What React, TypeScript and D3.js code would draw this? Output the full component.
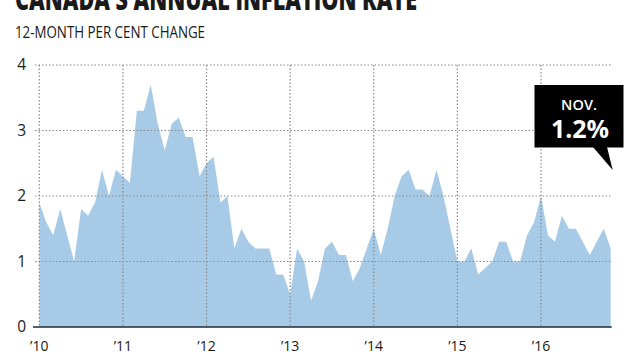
import React from "react";
import * as d3 from "d3";

const years = ["\u201910", "\u201911", "\u201912", "\u201913", "\u201914", "\u201915", "\u201916"];
const yTicks = [0, 1, 2, 3, 4];
const v2010 = [1.9, 1.6, 1.4, 1.8, 1.4, 1.0, 1.8, 1.7, 1.9, 2.4, 2.0, 2.4];
const v2011 = [2.3, 2.2, 3.3, 3.3, 3.7, 3.1, 2.7, 3.1, 3.2, 2.9, 2.9, 2.3];
const v2012 = [2.5, 2.6, 1.9, 2.0, 1.2, 1.5, 1.3, 1.2, 1.2, 1.2, 0.8, 0.8];
const v2013 = [0.5, 1.2, 1.0, 0.4, 0.7, 1.2, 1.3, 1.1, 1.1, 0.7, 0.9, 1.2];
const v2014 = [1.5, 1.1, 1.5, 2.0, 2.3, 2.4, 2.1, 2.1, 2.0, 2.4, 2.0, 1.5];
const v2015 = [1.0, 1.0, 1.2, 0.8, 0.9, 1.0, 1.3, 1.3, 1.0, 1.0, 1.4, 1.6];
const v2016 = [2.0, 1.4, 1.3, 1.7, 1.5, 1.5, 1.3, 1.1, 1.3, 1.5, 1.2];

const values = [...v2010, ...v2011, ...v2012, ...v2013, ...v2014, ...v2015, ...v2016];

export default function App() {
  const W = 635, H = 357;
  // x domain in years since Jan 2010
  const x = d3.scaleLinear().domain([0, 6]).range([39.3, 541]);
  const y = d3.scaleLinear().domain([0, 4]).range([327, 65]);
  const mx = (i: number) => x(i / 12);
  const area = d3
    .area<number>()
    .x((_, i) => mx(i))
    .y0(y(0))
    .y1((d) => y(d));
  const lastX = mx(values.length - 1);
  const gridRight = 612;
  const font = "'Open Sans', 'DejaVu Sans', sans-serif";
  return (
    <svg width={W} height={H} style={{ position: "absolute", left: 0, top: 0, background: "#fff" }}>
      <text x={15} y={10} fontFamily={font} fontWeight={800} fontSize={30}
        textLength={402} lengthAdjust="spacingAndGlyphs" fill="#1a1a1a">
        CANADA’S ANNUAL INFLATION RATE
      </text>
      <text x={15} y={38} fontFamily={font} fontSize={15.5}
        textLength={190} lengthAdjust="spacingAndGlyphs" fill="#1a1a1a">
        12-MONTH PER CENT CHANGE
      </text>
      <path d={area(values) || ""} fill="#a7cbe7" />
      {yTicks.filter((t) => t > 0).map((t) => (
        <line key={"h" + t} x1={35} x2={gridRight} y1={y(t)} y2={y(t)}
          stroke="#8a8a8a" strokeWidth={1.2} strokeDasharray="1.5,2" />
      ))}
      {years.map((yr, i) => (
        <line key={"v" + yr} x1={x(i)} x2={x(i)} y1={y(4)} y2={y(0)}
          stroke="#8a8a8a" strokeWidth={1.2} strokeDasharray="1.5,2" />
      ))}
      <line x1={33} x2={lastX + 1} y1={y(0)} y2={y(0)} stroke="#1c2b3a" strokeWidth={1.6} />
      {yTicks.map((t) => (
        <text key={"yl" + t} x={26} y={y(t) + 5} textAnchor="end" fontFamily={font}
          fontSize={15.5} fill="#1a1a1a">{t}</text>
      ))}
      {years.map((yr, i) => (
        <text key={"xl" + yr} x={x(i)} y={351} textAnchor="middle" fontFamily={font}
          fontSize={14} fill="#1a1a1a">{yr}</text>
      ))}
      <g>
        <rect x={534.5} y={85} width={89} height={62.5} fill="#000" />
        <polygon points={`593,147 ${lastX + 2},170 607,147`} fill="#000" />
        <text x={579} y={109.5} textAnchor="middle" fontFamily={font} fontWeight={600} fontSize={14.5}
          fill="#fff">NOV.</text>
        <text x={580} y={137.7} textAnchor="middle" fontFamily={font} fontWeight={700}
          fontSize={25} fill="#fff">{`${values[values.length - 1]}%`}</text>
      </g>
    </svg>
  );
}
